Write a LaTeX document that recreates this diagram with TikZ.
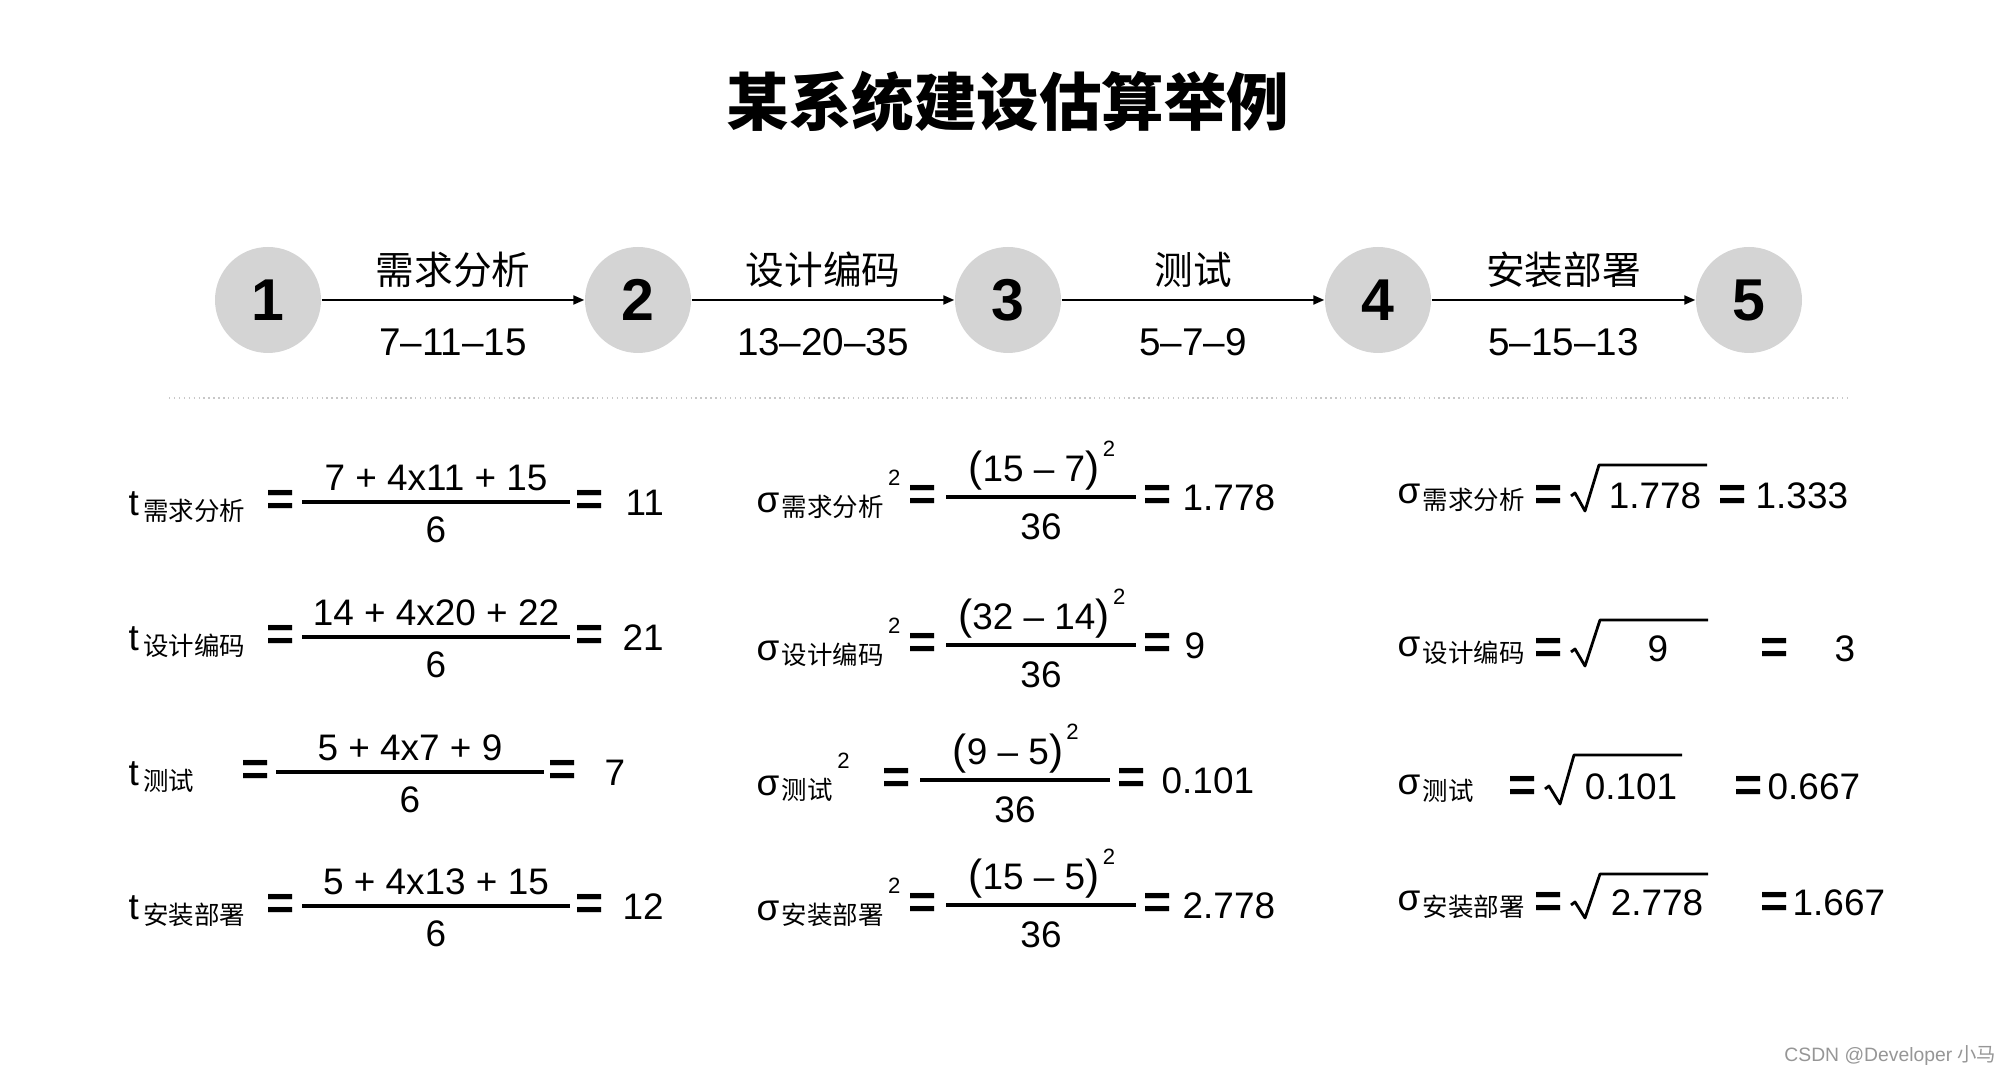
\documentclass[tikz,border=0pt]{standalone}
\usepackage{fontspec}
\setmainfont{Liberation Sans}
\newfontfamily\cjk{Noto Sans CJK SC}
\usetikzlibrary{arrows.meta,positioning}
\definecolor{stagegray}{RGB}{212,212,212}
\definecolor{rulegray}{RGB}{200,200,200}
\definecolor{markgray}{RGB}{150,150,150}
\newcommand{\numL}{{\fontsize{12}{12}\selectfont(}}
\newcommand{\numR}{{\fontsize{12}{12}\selectfont)}}
\tikzset{
  title/.style={inner sep=0, font=\cjk\bfseries\fontsize{17.8}{20}\selectfont},
  stage/.style={circle, fill=stagegray, minimum size=10.6mm, inner sep=0,
    font=\bfseries\fontsize{16.8}{18}\selectfont},
  flow/.style={-{Triangle[length=1.1mm,width=0.9mm]}, line width=0.6pt},
  elbl/.style={inner sep=0, font=\fontsize{11}{12}\selectfont},
  txt/.style={inner sep=0, anchor=base, font=\fontsize{10.5}{12}\selectfont},
  sub/.style={inner sep=0, anchor=base west, font=\cjk\fontsize{7.25}{8}\selectfont},
  sup/.style={inner sep=0, anchor=base west, font=\fontsize{6.3}{7}\selectfont},
  eq/.style={inner sep=0, anchor=base, font=\bfseries\fontsize{13.7}{14}\selectfont},
  bar/.style={line width=0.9pt},
  root/.style={line width=0.8pt, line join=round},
  sep/.style={rulegray, line width=0.4pt, densely dotted},
  wmark/.style={inner sep=0, markgray, font=\fontsize{5.5}{6}\selectfont}
}
\begin{document}
\begin{tikzpicture}[x=0.1mm, y=-0.1mm]
  \useasboundingbox (0,0) rectangle (2012,1074);
  \fill[white] (0,0) rectangle (2012,1074);
  % nadpis
  \node[title] (title) at (1008,102) {某系统建设估算举例};
  % uzly
  \node[stage] (n1) at (268,300) {1};
  \node[stage] (n2) at (638,300) {2};
  \node[stage] (n3) at (1008,300) {3};
  \node[stage] (n4) at (1378,300) {4};
  \node[stage] (n5) at (1749,300) {5};
  % sipky medzi nimi
  \draw[flow] (n1) -- (n2) node[elbl, midway, yshift=3mm] (a1) {\cjk 需求分析}
    node[elbl, midway, yshift=-4.2mm] (b1) {7–11–15};
  \draw[flow] (n2) -- (n3) node[elbl, midway, yshift=3mm] (a2) {\cjk 设计编码}
    node[elbl, midway, yshift=-4.2mm] (b2) {13–20–35};
  \draw[flow] (n3) -- (n4) node[elbl, midway, yshift=3mm] (a3) {\cjk 测试}
    node[elbl, midway, yshift=-4.2mm] (b3) {5–7–9};
  \draw[flow] (n4) -- (n5) node[elbl, midway, yshift=3mm] (a4) {\cjk 安装部署}
    node[elbl, midway, yshift=-4.2mm] (b4) {5–15–13};
  % oddelovac
  \draw[sep] (169,398) -- (1848,398);

  % stredne hodnoty t
  \node[txt, anchor=base west] (tA) at (128,516) {t};
  \node[sub, xshift=0.3mm, yshift=-0.5mm] (tAs) at (tA.base east) {需求分析};
  \node[eq] (tAe) at (281,516) {=};
  \draw[bar] (302,502) -- (570,502);
  \node[txt] (tAn) at (436,491) {7 + 4x11 + 15};
  \node[txt] (tAd) at (436,543) {6};
  \node[eq] (tAq) at (590,516) {=};
  \node[txt, anchor=base west] (tAr) at (625,516) {11};

  \node[txt, anchor=base west] (tB) at (128,651) {t};
  \node[sub, xshift=0.3mm, yshift=-0.5mm] (tBs) at (tB.base east) {设计编码};
  \node[eq] (tBe) at (281,651) {=};
  \draw[bar] (302,637) -- (570,637);
  \node[txt] (tBn) at (436,626) {14 + 4x20 + 22};
  \node[txt] (tBd) at (436,678) {6};
  \node[eq] (tBq) at (590,651) {=};
  \node[txt, anchor=base west] (tBr) at (622,651) {21};

  \node[txt, anchor=base west] (tC) at (128,786) {t};
  \node[sub, xshift=0.3mm, yshift=-0.5mm] (tCs) at (tC.base east) {测试};
  \node[eq] (tCe) at (256,786) {=};
  \draw[bar] (276,772) -- (544,772);
  \node[txt] (tCn) at (410,761) {5 + 4x7 + 9};
  \node[txt] (tCd) at (410,813) {6};
  \node[eq] (tCq) at (563,786) {=};
  \node[txt, anchor=base west] (tCr) at (604,786) {7};

  \node[txt, anchor=base west] (tD) at (128,920) {t};
  \node[sub, xshift=0.3mm, yshift=-0.5mm] (tDs) at (tD.base east) {安装部署};
  \node[eq] (tDe) at (281,920) {=};
  \draw[bar] (302,906) -- (570,906);
  \node[txt] (tDn) at (436,895) {5 + 4x13 + 15};
  \node[txt] (tDd) at (436,947) {6};
  \node[eq] (tDq) at (590,920) {=};
  \node[txt, anchor=base west] (tDr) at (622,920) {12};

  % rozptyly
  \node[txt, anchor=base west] (vA) at (756,513) {σ};
  \node[sub, xshift=0.1mm, yshift=-0.4mm] (vAs) at (vA.base east) {需求分析};
  \node[sup, xshift=0.3mm, yshift=3.1mm] (vAp) at (vAs.base east) {2};
  \node[eq] (vAe) at (923,511) {=};
  \draw[bar] (946,497) -- (1136,497);
  \node[txt] (vAn) at (1034,482) {\numL 15 – 7\numR};
  \node[sup, xshift=0.2mm, yshift=2.5mm] (vAt) at (vAn.base east) {2};
  \node[txt] (vAd) at (1041,540) {36};
  \node[eq] (vAq) at (1158,511) {=};
  \node[txt, anchor=base west] (vAr) at (1182,511) {1.778};

  \node[txt, anchor=base west] (vB) at (756,661) {σ};
  \node[sub, xshift=0.1mm, yshift=-0.4mm] (vBs) at (vB.base east) {设计编码};
  \node[sup, xshift=0.3mm, yshift=3.1mm] (vBp) at (vBs.base east) {2};
  \node[eq] (vBe) at (923,659) {=};
  \draw[bar] (946,645) -- (1136,645);
  \node[txt] (vBn) at (1034,630) {\numL 32 – 14\numR};
  \node[sup, xshift=0.2mm, yshift=2.5mm] (vBt) at (vBn.base east) {2};
  \node[txt] (vBd) at (1041,688) {36};
  \node[eq] (vBq) at (1158,659) {=};
  \node[txt, anchor=base west] (vBr) at (1184,659) {9};

  \node[txt, anchor=base west] (vC) at (756,796) {σ};
  \node[sub, xshift=0.1mm, yshift=-0.4mm] (vCs) at (vC.base east) {测试};
  \node[sup, xshift=0.3mm, yshift=3.1mm] (vCp) at (vCs.base east) {2};
  \node[eq] (vCe) at (897,794) {=};
  \draw[bar] (920,780) -- (1110,780);
  \node[txt] (vCn) at (1008,765) {\numL 9 – 5\numR};
  \node[sup, xshift=0.2mm, yshift=2.5mm] (vCt) at (vCn.base east) {2};
  \node[txt] (vCd) at (1015,823) {36};
  \node[eq] (vCq) at (1132,794) {=};
  \node[txt, anchor=base west] (vCr) at (1161,794) {0.101};

  \node[txt, anchor=base west] (vD) at (756,921) {σ};
  \node[sub, xshift=0.1mm, yshift=-0.4mm] (vDs) at (vD.base east) {安装部署};
  \node[sup, xshift=0.3mm, yshift=3.1mm] (vDp) at (vDs.base east) {2};
  \node[eq] (vDe) at (923,919) {=};
  \draw[bar] (946,905) -- (1136,905);
  \node[txt] (vDn) at (1034,890) {\numL 15 – 5\numR};
  \node[sup, xshift=0.2mm, yshift=2.5mm] (vDt) at (vDn.base east) {2};
  \node[txt] (vDd) at (1041,948) {36};
  \node[eq] (vDq) at (1158,919) {=};
  \node[txt, anchor=base west] (vDr) at (1182,919) {2.778};

  % smerodajne odchylky
  \node[txt, anchor=base west] (sA) at (1397,504) {σ};
  \node[sub, xshift=0.1mm, yshift=-0.6mm] (sAs) at (sA.base east) {需求分析};
  \node[eq] (sAe) at (1549,511) {=};
  \draw[root] (1571,496) -- (1575,493) -- (1585,511) -- (1599,465) -- (1707,465);
  \node[txt] (sAv) at (1655,509) {1.778};
  \node[eq] (sAq) at (1733,511) {=};
  \node[txt, anchor=base west] (sAr) at (1755,509) {1.333};

  \node[txt, anchor=base west] (sB) at (1397,657) {σ};
  \node[sub, xshift=0.1mm, yshift=-0.6mm] (sBs) at (sB.base east) {设计编码};
  \node[eq] (sBe) at (1549,664) {=};
  \draw[root] (1571,652) -- (1575,649) -- (1585,666) -- (1600,620) -- (1708,620);
  \node[txt] (sBv) at (1658,662) {9};
  \node[eq] (sBq) at (1775,664) {=};
  \node[txt, anchor=base west] (sBr) at (1834,662) {3};

  \node[txt, anchor=base west] (sC) at (1397,795) {σ};
  \node[sub, xshift=0.1mm, yshift=-0.6mm] (sCs) at (sC.base east) {测试};
  \node[eq] (sCe) at (1523,802) {=};
  \draw[root] (1545,789) -- (1549,786) -- (1560,804) -- (1574,755) -- (1682,755);
  \node[txt] (sCv) at (1631,800) {0.101};
  \node[eq] (sCq) at (1749,802) {=};
  \node[txt, anchor=base west] (sCr) at (1767,800) {0.667};

  \node[txt, anchor=base west] (sD) at (1397,911) {σ};
  \node[sub, xshift=0.1mm, yshift=-0.6mm] (sDs) at (sD.base east) {安装部署};
  \node[eq] (sDe) at (1549,918) {=};
  \draw[root] (1571,905) -- (1575,902) -- (1585,918) -- (1600,874) -- (1708,874);
  \node[txt] (sDv) at (1657,916) {2.778};
  \node[eq] (sDq) at (1775,918) {=};
  \node[txt, anchor=base west] (sDr) at (1792,916) {1.667};

  % vodoznak
  \node[wmark, anchor=base east] (wm) at (1997,1062) {CSDN @Developer {\cjk 小马}};
\end{tikzpicture}
\end{document}
